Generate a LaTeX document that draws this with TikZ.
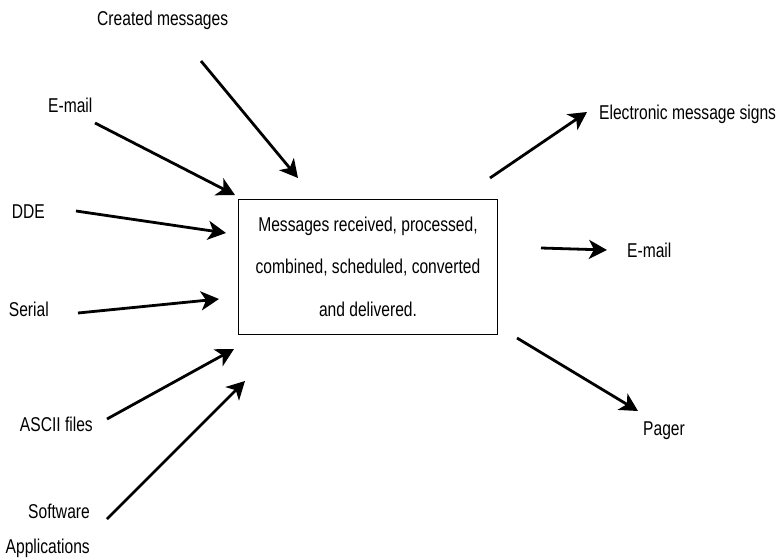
\documentclass[tikz,border=0pt]{standalone}
\usepackage{fontspec}
\setmainfont{Liberation Sans}[FakeStretch=0.78]
\usetikzlibrary{arrows.meta,positioning}

\begin{document}
\begin{tikzpicture}[
  x=1pt,y=-1pt,
  tag/.style={font=\fontsize{20}{24}\selectfont,inner sep=0pt},
  hub/.style={draw,line width=1pt,minimum width=259pt,minimum height=135pt,
    align=center,font=\fontsize{20}{42.5}\selectfont},
  arrow/.style={-{Stealth[length=18pt,width=19pt,inset=5pt]},line width=2.8pt}
]
  \useasboundingbox (0,0) rectangle (779,557);

  % central box
  \node[hub] (hub) at (368,266.5)
    {Messages received, processed,\\combined, scheduled, converted\\and delivered.};

  % inputs
  \node[tag,anchor=base west] (created) at (97,25.7) {Created messages};
  \node[tag,anchor=base west] (emailin) at (48,112.7) {E-mail};
  \node[tag,anchor=base east] (dde) at (45,218) {DDE};
  \node[tag,anchor=base east] (serial) at (49,316.7) {Serial};
  \node[tag,anchor=base east] (ascii) at (93,431) {ASCII files};
  \node[tag,anchor=base east] (software) at (90,518) {Software};
  \node[tag,anchor=base east] (apps) at (90,553) {Applications};

  % outputs
  \node[tag,anchor=base west] (signs) at (599,119) {Electronic message signs};
  \node[tag,anchor=base west] (emailout) at (627,257) {E-mail};
  \node[tag,anchor=base west] (pager) at (643,435) {Pager};

  \coordinate (createdA) at (201,61);   \coordinate (createdB) at (298,178);
  \coordinate (emailinA) at (95,123);   \coordinate (emailinB) at (235,195);
  \coordinate (ddeA) at (76,211);       \coordinate (ddeB) at (226,233);
  \coordinate (serialA) at (78,313);    \coordinate (serialB) at (219,299);
  \coordinate (asciiA) at (107,419);    \coordinate (asciiB) at (234,349);
  \coordinate (softwareA) at (107,519); \coordinate (softwareB) at (245,381);
  \coordinate (signsA) at (490,178);    \coordinate (signsB) at (587,112);
  \coordinate (emailoutA) at (541,248); \coordinate (emailoutB) at (607,250);
  \coordinate (pagerA) at (517,338);    \coordinate (pagerB) at (638,411);

  \draw[arrow] (createdA) -- (createdB);
  \draw[arrow] (emailinA) -- (emailinB);
  \draw[arrow] (ddeA) -- (ddeB);
  \draw[arrow] (serialA) -- (serialB);
  \draw[arrow] (asciiA) -- (asciiB);
  \draw[arrow] (softwareA) -- (softwareB);
  \draw[arrow] (signsA) -- (signsB);
  \draw[arrow] (emailoutA) -- (emailoutB);
  \draw[arrow] (pagerA) -- (pagerB);
\end{tikzpicture}
\end{document}
